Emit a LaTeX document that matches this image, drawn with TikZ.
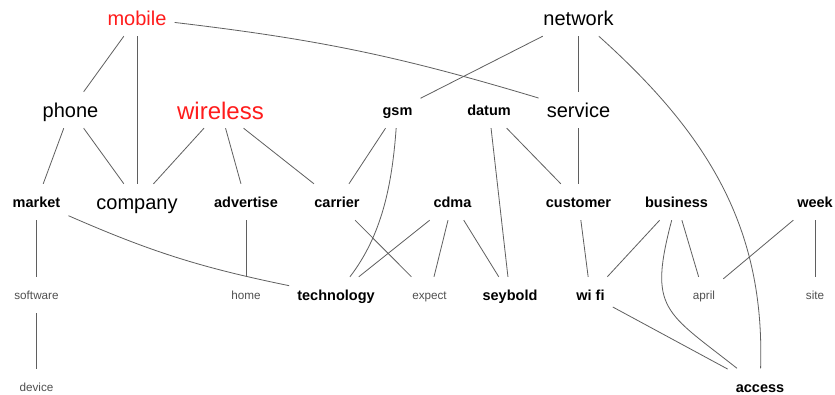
\documentclass[tikz,border=0pt]{standalone}
\usepackage{fontspec}
\setmainfont{Liberation Sans}
\usepackage{tikz}
\definecolor{hotred}{RGB}{255,28,28}
\definecolor{wiregray}{RGB}{95,95,95}
\definecolor{faintgray}{RGB}{80,80,80}

\begin{document}
\begin{tikzpicture}[
  x=1pt, y=-1pt,
  word/.style={inner xsep=8pt, inner ysep=0pt, minimum height=36pt, text depth=0pt},
  big/.style={word, font=\fontsize{20}{24}\selectfont, text height=16pt},
  hot/.style={big, text=hotred},
  hotter/.style={word, font=\fontsize{24}{28}\selectfont, text height=19.2pt, text=hotred},
  mid/.style={word, font=\fontsize{14.5}{17}\selectfont\bfseries, text height=11.6pt},
  minor/.style={word, font=\fontsize{11.7}{14}\selectfont, text height=9.4pt, text=faintgray},
  link/.style={draw=wiregray, line width=0.8pt}
]
\path[use as bounding box, fill=white] (0,0) rectangle (835,395);

\node[hot] (mobile) at (137,18) {mobile};
\node[big] (network) at (578.5,18) {network};
\node[big] (phone) at (70.5,110) {phone};
\node[hotter] (wireless) at (220.5,110) {wireless};
\node[mid] (gsm) at (397.5,110) {gsm};
\node[mid] (datum) at (489,110) {datum};
\node[big] (service) at (578.5,110) {service};
\node[mid] (market) at (36.5,202) {market};
\node[big] (company) at (137,202) {company};
\node[mid] (advertise) at (246,202) {advertise};
\node[mid] (carrier) at (337,202) {carrier};
\node[mid] (cdma) at (452.5,202) {cdma};
\node[mid] (customer) at (578.5,202) {customer};
\node[mid] (business) at (676.5,202) {business};
\node[mid] (week) at (815,202) {week};
\node[minor] (software) at (36.5,295) {software};
\node[minor] (home) at (246,295) {home};
\node[mid] (technology) at (336,295) {technology};
\node[minor] (expect) at (429.5,295) {expect};
\node[mid] (seybold) at (510,295) {seybold};
\node[mid] (wifi) at (590.5,295) {wi fi};
\node[minor] (april) at (704,295) {april};
\node[minor] (site) at (815,295) {site};
\node[minor] (device) at (36.5,387) {device};
\node[mid] (access) at (760,386.5) {access};

\draw[link] (mobile) -- (phone);
\draw[link] (mobile) -- (company);
\draw[link] (mobile) to[bend left=5] (service);
\draw[link] (network) -- (gsm);
\draw[link] (network) -- (service);
\draw[link] (network) .. controls +(130.5,117) and +(5,-158) .. (access);
\draw[link] (phone) -- (market);
\draw[link] (phone) -- (company);
\draw[link] (wireless) -- (company);
\draw[link] (wireless) -- (advertise);
\draw[link] (wireless) -- (carrier);
\draw[link] (gsm) -- (carrier);
\draw[link] (gsm) .. controls +(-5.5,75) and +(46,-60) .. (technology);
\draw[link] (datum) -- (seybold);
\draw[link] (datum) -- (customer);
\draw[link] (service) -- (customer);
\draw[link] (market) -- (software);
\draw[link] (market) to[bend right=6] (technology);
\draw[link] (advertise) -- (home);
\draw[link] (carrier) -- (expect);
\draw[link] (cdma) -- (technology);
\draw[link] (cdma) -- (expect);
\draw[link] (cdma) -- (seybold);
\draw[link] (customer) -- (wifi);
\draw[link] (business) -- (wifi);
\draw[link] (business) .. controls +(-28.5,108) and +(-95,-75) .. (access);
\draw[link] (business) -- (april);
\draw[link] (week) -- (april);
\draw[link] (week) -- (site);
\draw[link] (wifi) -- (access);
\draw[link] (software) -- (device);
\end{tikzpicture}
\end{document}
